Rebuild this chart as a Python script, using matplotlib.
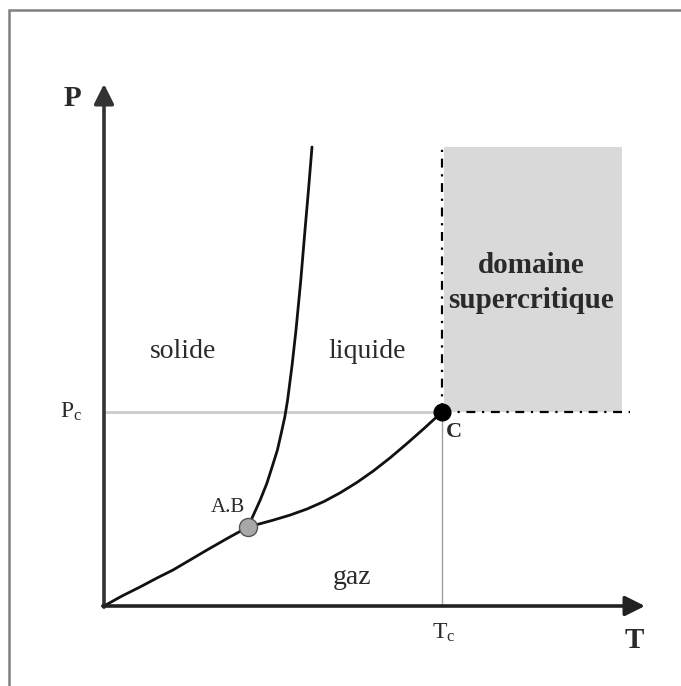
import numpy as np
import matplotlib
matplotlib.use('Agg')
import matplotlib.pyplot as plt
from matplotlib.patches import Rectangle

# ─── Données (unités arbitraires, origine = 0) ────────────────────────────────
Tc, Pc = 3.38, 1.94                 # point critique C
T_ab, P_ab = 1.44, 0.79             # point triple A.B

# courbe de sublimation (solide / gaz)
T_sub = [0.00, 0.18, 0.36, 0.53, 0.69, 0.86, 1.03, 1.24, 1.44]
P_sub = [0.00, 0.10, 0.19, 0.28, 0.36, 0.46, 0.56, 0.68, 0.79]

# courbe de fusion (solide / liquide)
T_fus = [1.440, 1.501, 1.562, 1.628, 1.681, 1.734, 1.773, 1.809, 1.836,
         1.881, 1.920, 1.968, 2.010, 2.046, 2.080]
P_fus = [0.790, 0.925, 1.060, 1.225, 1.390, 1.560, 1.730, 1.895, 2.060,
         2.410, 2.760, 3.260, 3.760, 4.175, 4.590]

# courbe de vaporisation (liquide / gaz)
T_vap = [1.44, 1.69, 1.86, 2.03, 2.20, 2.36, 2.53, 2.69, 2.86, 3.03, 3.20, 3.38]
P_vap = [0.790, 0.858, 0.909, 0.970, 1.045, 1.131, 1.236, 1.348, 1.481, 1.625, 1.775, 1.940]

# domaine supercritique
T_sc_max, P_sc_max = 5.18, 4.59
T_axe_max, P_axe_max = 5.41, 5.22

plt.rcParams['font.family'] = ['Liberation Serif', 'DejaVu Serif']
plt.rcParams['mathtext.fontset'] = 'custom'
plt.rcParams['mathtext.rm'] = 'Liberation Serif'
plt.rcParams['mathtext.it'] = 'Liberation Serif'

fig = plt.figure(figsize=(6.81, 6.86), dpi=100)
ax = fig.add_axes([0, 0, 1, 1])
ax.set_xlim(-1.04, 5.77)
ax.set_ylim(-0.80, 6.06)
ax.axis('off')

# cadre gris
ax.add_patch(Rectangle((-0.955, -1.0), 7.0, 6.96, fill=False,
                       edgecolor='#808080', lw=1.8, clip_on=False))

# domaine supercritique
ax.add_patch(Rectangle((Tc + 0.02, Pc), T_sc_max - Tc - 0.02, P_sc_max - Pc,
                       facecolor='#d9d9d9', edgecolor='none'))

# lignes Pc / Tc
ax.plot([0, Tc], [Pc, Pc], color='#cccccc', lw=2)
ax.plot([Tc, Tc], [0, Pc], color='#a0a0a0', lw=1)

# limites du domaine supercritique
ax.plot([Tc, Tc], [Pc, P_sc_max], color='black', lw=1.6, linestyle=(0, (4, 3, 1, 3)))
ax.plot([Tc, T_sc_max + 0.08], [Pc, Pc], color='black', lw=1.6, linestyle=(0, (4, 3, 1, 3)))

# axes
ax.annotate('', xy=(0, P_axe_max), xytext=(0, -0.012),
            arrowprops=dict(arrowstyle='-|>', lw=2.6, color='#333333',
                            mutation_scale=30, shrinkA=0, shrinkB=0))
ax.annotate('', xy=(T_axe_max, 0), xytext=(-0.012, 0),
            arrowprops=dict(arrowstyle='-|>', lw=2.6, color='#222222',
                            mutation_scale=30, shrinkA=0, shrinkB=0))

# courbes d'équilibre
kw = dict(color='#111111', lw=2, solid_joinstyle='round', solid_capstyle='round')
ax.plot(T_sub, P_sub, **kw)
ax.plot(T_fus, P_fus, **kw)
ax.plot(T_vap, P_vap, **kw)

ax.plot([Tc], [Pc], 'o', color='black', ms=12, zorder=5)
ax.plot([T_ab], [P_ab], 'o', color='#a8a8a8', mec='#555555', mew=1, ms=13, zorder=5)

# textes
tc = '#2a2a2a'
ax.text(-0.32, 5.07, 'P', fontsize=21, fontweight='bold', color=tc, ha='center', va='center')
ax.text(5.30, -0.34, 'T', fontsize=21, fontweight='bold', color=tc, ha='center', va='center')
ax.text(-0.33, Pc, r'P$_{\mathrm{c}}$', fontsize=17, color=tc, ha='center', va='center')
ax.text(Tc + 0.02, -0.27, r'T$_{\mathrm{c}}$', fontsize=17, color=tc, ha='center', va='center')
ax.text(Tc + 0.12, Pc - 0.20, 'C', fontsize=16, fontweight='bold', color=tc, ha='center', va='center')
ax.text(T_ab - 0.20, P_ab + 0.19, 'A.B', fontsize=15, color=tc, ha='center', va='center')
ax.text(0.79, 2.54, 'solide', fontsize=20, color=tc, ha='center', va='center')
ax.text(2.63, 2.54, 'liquide', fontsize=20, color=tc, ha='center', va='center')
ax.text(2.48, 0.29, 'gaz', fontsize=20, color=tc, ha='center', va='center')
ax.text(4.27, 3.23, 'domaine\nsupercritique', fontsize=21, fontweight='bold',
        color=tc, ha='center', va='center', linespacing=1.35)

fig.savefig('out.png', dpi=100)
